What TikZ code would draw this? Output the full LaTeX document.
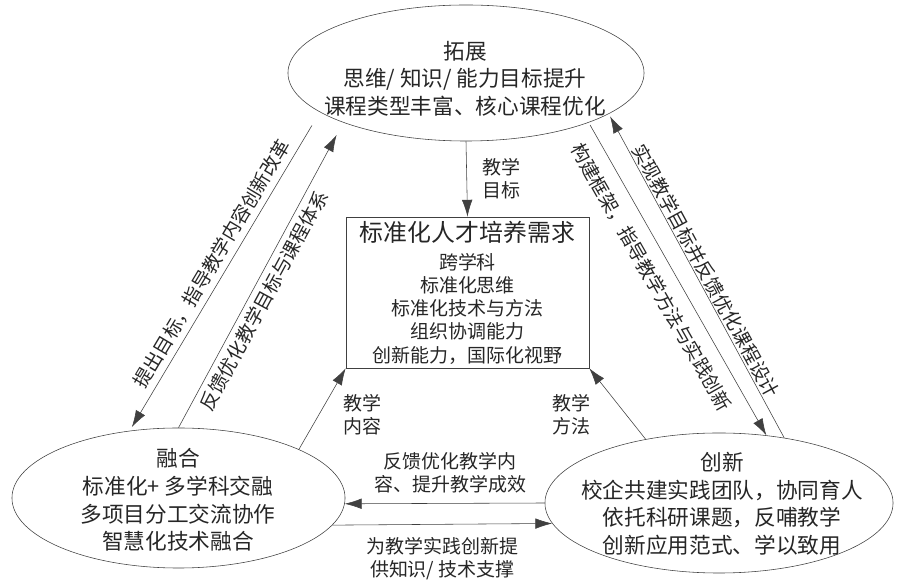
\documentclass[tikz,border=0pt]{standalone}
\usepackage{fontspec}
\setmainfont{Noto Sans CJK SC}
\usetikzlibrary{shapes.geometric,arrows.meta}

\begin{document}
\begin{tikzpicture}[x=0.025cm,y=-0.025cm,->,>={Latex[length=12pt,width=7.5pt]},
					oval/.style={ellipse,draw=black!75,thin,inner sep=0pt},
					oval text/.style={align=center,text=black!85,font=\fontsize{15.4pt}{19.6pt}\selectfont},
					need box/.style={draw=black!75,thin,align=center,text=black!85,inner sep=0pt,
						minimum width=6.075cm,minimum height=3.775cm,font=\fontsize{13.5pt}{16.5pt}\selectfont},
					lab/.style={align=center,text=black!85,inner sep=2pt,font=\fontsize{13.5pt}{16.5pt}\selectfont}]
					\useasboundingbox (0,0) rectangle (897,582);

					\node[oval,minimum width=8.9cm,minimum height=3.4cm] (tuozhan) at (466,73) {};
					\node[oval text] (tuozhan txt) at (465,78.5) {拓展\\思维/ 知识/ 能力目标提升\\课程类型丰富、核心课程优化};
					\node[oval,minimum width=8.325cm,minimum height=3.5cm] (ronghe) at (178.5,498) {};
					\node[oval text] (ronghe txt) at (178,500) {融合\\标准化+ 多学科交融\\多项目分工交流协作\\智慧化技术融合};
					\node[oval,minimum width=8.7cm,minimum height=3.5cm] (chuangxin) at (719,503) {};
					\node[oval text] (chuangxin txt) at (722,504) {创新\\校企共建实践团队，协同育人\\依托科研课题，反哺教学\\创新应用范式、学以致用};
					\node[need box] (xuqiu) at (467.5,292.5) {{\fontsize{17pt}{20pt}\selectfont 标准化人才培养需求}\\[3.5pt]
						跨学科\\标准化思维\\标准化技术与方法\\组织协调能力\\创新能力，国际化视野};

					\path[every node/.style={lab},every edge/.append style={draw=black!75,thin}]
					(tuozhan.195) edge[shorten <=11pt,shorten >=3pt] node[sloped,above=2pt,pos=0.5] {提出目标，指导教学内容创新改革} (ronghe.126)
					(ronghe.90) edge[shorten >=10pt] node[sloped,below=2pt,pos=0.44] {反馈优化教学目标与课程体系} (tuozhan.202)
					(tuozhan.338) edge[shorten <=2pt] node[sloped,below=7pt,pos=0.46] {构建框架，指导教学方法与实践创新} (chuangxin.55)
					(chuangxin.45) edge[shorten >=2pt] node[sloped,above=-1pt,pos=0.5] {实现教学目标并反馈优化课程设计} (tuozhan.344)
					(tuozhan.south) edge node[right=9pt] {教学\\目标} (xuqiu.north)
					(ronghe.22) edge node[right=13pt,yshift=-4pt] {教学\\内容} (xuqiu.south west)
					(chuangxin.139) edge node[left=17pt,yshift=-8pt] {教学\\方法} (xuqiu.south east)
					(chuangxin.west) edge node[above=5pt,xshift=4pt] {反馈优化教学内\\容、提升教学成效} (ronghe.-2)
					(ronghe.-10) edge node[below=7pt] {为教学实践创新提\\供知识/ 技术支撑} (chuangxin.187);
				\end{tikzpicture}
\end{document}
